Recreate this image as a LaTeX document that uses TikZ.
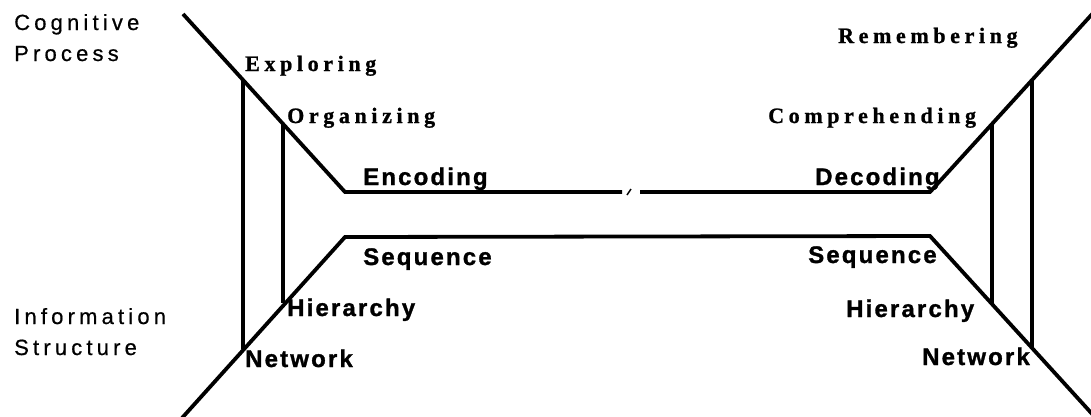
\documentclass[tikz,border=0pt]{standalone}
\usepackage{fontspec}
\setmainfont{Liberation Serif}
\newfontfamily\lblsans[LetterSpace=9,FakeBold=1.2]{Liberation Sans Bold}
\newfontfamily\lblserif[LetterSpace=21,FakeBold=1]{Liberation Serif Bold}
\newfontfamily\lblreg[LetterSpace=19,FakeBold=0.6]{Liberation Sans}
\begin{document}
\begin{tikzpicture}[x=1pt,y=-1pt,
  struct/.style={line width=3.8pt},
  junction/.style={line width=3.2pt},
  boldlbl/.style={inner sep=0pt,anchor=base west,font=\lblsans\fontsize{24}{26}\selectfont},
  proclbl/.style={inner sep=0pt,anchor=base west,font=\lblserif\fontsize{22}{24}\selectfont},
  sidelbl/.style={inner sep=0pt,anchor=base west,align=left,font=\lblreg\fontsize{22}{31}\selectfont}]
\useasboundingbox (0,0) rectangle (1091,416);
% corners
\coordinate (tl) at (183,14);
\coordinate (enc) at (345,192);
\coordinate (gapL) at (622,192);
\coordinate (gapR) at (640,192);
\coordinate (dec) at (930,192);
\coordinate (tr) at (1094,12);
\coordinate (bl) at (182,418);
\coordinate (seqL) at (345,237);
\coordinate (seqR) at (930,236);
\coordinate (br) at (1094,416);
\coordinate (tickA) at (627,195);
\coordinate (tickB) at (631,189);
% junctions
\coordinate (jExp) at (243,80);
\coordinate (jOrg) at (283,124);
\coordinate (jNetL) at (243,349);
\coordinate (jHieL) at (283,303);
\coordinate (jRem) at (1032,80);
\coordinate (jCom) at (992,124);
\coordinate (jNetR) at (1032,348);
\coordinate (jHieR) at (992,304);
% structure lines
\draw[struct] (tl) -- (enc) -- (gapL);
\draw[struct] (gapR) -- (dec) -- (tr);
\draw[line width=1.5pt] (tickA) -- (tickB);
\draw[struct] (bl) -- (seqL) -- (seqR) -- (br);
\draw[junction] (jExp) -- (jNetL);
\draw[junction] (jOrg) -- (jHieL);
\draw[junction] (jRem) -- (jNetR);
\draw[junction] (jCom) -- (jHieR);
% labels
\node[sidelbl] (cog) at (14,61) {Cognitive\\Process};
\node[sidelbl] (info) at (14,355) {Information\\Structure};
\node[proclbl] (exp) at (245,71) {Exploring};
\node[proclbl] (org) at (287,123) {Organizing};
\node[proclbl] (rem) at (838,43) {Remembering};
\node[proclbl] (com) at (768,123) {Comprehending};
\node[boldlbl] (encl) at (363,185) {Encoding};
\node[boldlbl] (decl) at (815,185) {Decoding};
\node[boldlbl] (seql) at (363,265) {Sequence};
\node[boldlbl] (seqr) at (808,263) {Sequence};
\node[boldlbl] (hiel) at (287,316) {Hierarchy};
\node[boldlbl] (hier) at (846,317) {Hierarchy};
\node[boldlbl] (netl) at (245,367) {Network};
\node[boldlbl] (netr) at (922,365) {Network};
\end{tikzpicture}
\end{document}
